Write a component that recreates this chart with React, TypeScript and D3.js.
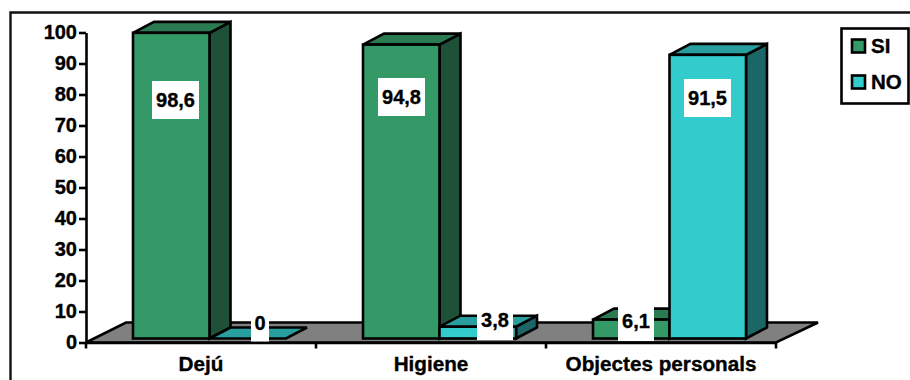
import React, { useEffect, useRef } from "react";
import * as d3 from "d3";

const categories = ["Dejú", "Higiene", "Objectes personals"];
const seriesNames = ["SI", "NO"];
const siValues = [98.6, 94.8, 6.1];
const noValues = [0, 3.8, 91.5];
const yTicks = [0, 10, 20, 30, 40, 50, 60, 70, 80, 90, 100];

// Face colours per series: front, top, side
const siFaces = ["#339966", "#2A7A52", "#1F5138"];
const noFaces = ["#33CCCC", "#299E9E", "#1B6666"];

const WIDTH = 910;
const HEIGHT = 380;
const FONT = "'Liberation Sans', Arial, sans-serif";

// Plot geometry
const axisX0 = 86;
const axisX1 = 776;
const axisY0 = 342.5;
const axisY100 = 32.5;
const floorDx = 40;
const floorDy = -20;
const barInsetX = 47;
const barInsetY = 4;
const barW = 76.5;
const depthDx = 21;
const depthDy = -11;
const edge = 2.6;
const textHalo = 0.35;

// Data label boxes: centre and size in chart pixels
const siLabelBoxes = [
  { cx: 175.5, cy: 100, w: 47, h: 38 },
  { cx: 401.5, cy: 97, w: 47, h: 38 },
  { cx: 636, cy: 321, w: 36, h: 40 },
];
const noLabelBoxes = [
  { cx: 260, cy: 322.5, w: 18, h: 38 },
  { cx: 495, cy: 320, w: 36, h: 40 },
  { cx: 707.5, cy: 98, w: 47, h: 38 },
];

const fmt = (v: number) => (Number.isInteger(v) ? String(v) : String(v).replace(".", ","));

const x = d3.scaleBand<string>().domain(categories).range([axisX0, axisX1]).padding(0);
const y = d3.scaleLinear().domain([0, 100]).range([axisY0, axisY100]);
const barBase = axisY0 - barInsetY;

const poly = (pts: [number, number][]) => d3.line()(pts) + "Z";

function Bar({ left, value, faces }: { left: number; value: number; faces: string[] }) {
  const top = y(value) - barInsetY;
  const right = left + barW;
  return (
    <g stroke="#000" strokeWidth={edge} strokeLinejoin="miter">
      {value > 0 && (
        <path
          d={poly([
            [right, top],
            [right + depthDx, top + depthDy],
            [right + depthDx, barBase + depthDy],
            [right, barBase],
          ])}
          fill={faces[2]}
        />
      )}
      <path
        d={poly([
          [left, top],
          [right, top],
          [right + depthDx, top + depthDy],
          [left + depthDx, top + depthDy],
        ])}
        fill={faces[1]}
      />
      {value > 0 && <rect x={left} y={top} width={barW} height={barBase - top} fill={faces[0]} />}
    </g>
  );
}

function Label({ box, value }: { box: { cx: number; cy: number; w: number; h: number }; value: number }) {
  return (
    <g>
      <rect x={box.cx - box.w / 2} y={box.cy - box.h / 2} width={box.w} height={box.h} fill="#fff" />
      <text
        x={box.cx}
        y={box.cy}
        dy="0.36em"
        textAnchor="middle"
        fontFamily={FONT}
        fontWeight="bold"
        fontSize={20}
        fill="#000"
        stroke="#000"
        strokeWidth={textHalo}
      >
        {fmt(value)}
      </text>
    </g>
  );
}

export default function App() {
  const yAxisRef = useRef<SVGGElement>(null);
  const xAxisRef = useRef<SVGGElement>(null);

  useEffect(() => {
    const styleAxis = (
      g: d3.Selection<SVGGElement, unknown, null, undefined>,
      size: number,
    ) => {
      g.selectAll("path").attr("stroke", "#000").attr("stroke-width", edge);
      g.selectAll("line").attr("stroke", "#000").attr("stroke-width", edge);
      g.selectAll("text")
        .attr("fill", "#000")
        .attr("stroke", "#000")
        .attr("stroke-width", textHalo)
        .attr("font-family", FONT)
        .attr("font-weight", "bold")
        .attr("font-size", size);
    };
    const yG = d3.select(yAxisRef.current as SVGGElement);
    yG.call(d3.axisLeft(y).tickValues(yTicks).tickSize(7).tickPadding(2).tickSizeOuter(0));
    styleAxis(yG, 20);
    const xG = d3.select(xAxisRef.current as SVGGElement);
    xG.call(d3.axisBottom(x).tickSize(0).tickPadding(14));
    styleAxis(xG, 20.7);
    // Ticks sit on the category boundaries, not the band centres
    xG.selectAll("line.boundary")
      .data(d3.range(categories.length + 1))
      .join("line")
      .attr("class", "boundary")
      .attr("x1", (i) => axisX0 + i * x.bandwidth())
      .attr("x2", (i) => axisX0 + i * x.bandwidth())
      .attr("y1", 0)
      .attr("y2", 6)
      .attr("stroke", "#000")
      .attr("stroke-width", edge);
  }, []);

  return (
    <svg
      width={WIDTH}
      height={HEIGHT}
      viewBox={`0 0 ${WIDTH} ${HEIGHT}`}
      style={{ position: "absolute", left: 0, top: 0, display: "block", background: "#fff" }}
    >
      {/* Outer frame, running off the right and bottom edges */}
      <path d="M10.5,390V12.5H920" fill="none" stroke="#111" strokeWidth={2.4} />

      {/* Chart floor */}
      <path
        d={poly([
          [axisX0, axisY0],
          [axisX1, axisY0],
          [axisX1 + floorDx + 2, axisY0 + floorDy],
          [axisX0 + floorDx, axisY0 + floorDy],
        ])}
        fill="#808080"
        stroke="#000"
        strokeWidth={edge}
      />

      <g ref={yAxisRef} transform={`translate(${axisX0},0)`} />
      <g ref={xAxisRef} transform={`translate(0,${axisY0})`} />

      {categories.map((c, i) => {
        const left = (x(c) as number) + barInsetX;
        return (
          <g key={c}>
            <Bar left={left} value={siValues[i]} faces={siFaces} />
            <Bar left={left + barW} value={noValues[i]} faces={noFaces} />
          </g>
        );
      })}

      {categories.map((c, i) => (
        <g key={c}>
          <Label box={siLabelBoxes[i]} value={siValues[i]} />
          <Label box={noLabelBoxes[i]} value={noValues[i]} />
        </g>
      ))}

      {/* Legend */}
      <rect x={841.5} y={28.5} width={67} height={75} fill="#fff" stroke="#000" strokeWidth={edge} />
      {seriesNames.map((name, i) => (
        <g key={name} transform={`translate(0,${46 + i * 36})`}>
          <rect x={852} y={-6.5} width={13} height={13} fill={i === 0 ? siFaces[0] : noFaces[0]} stroke="#000" strokeWidth={edge} />
          <text x={871} y={0} dy="0.36em" fontFamily={FONT} fontWeight="bold" fontSize={20.5} fill="#000" stroke="#000" strokeWidth={textHalo}>
            {name}
          </text>
        </g>
      ))}
    </svg>
  );
}
